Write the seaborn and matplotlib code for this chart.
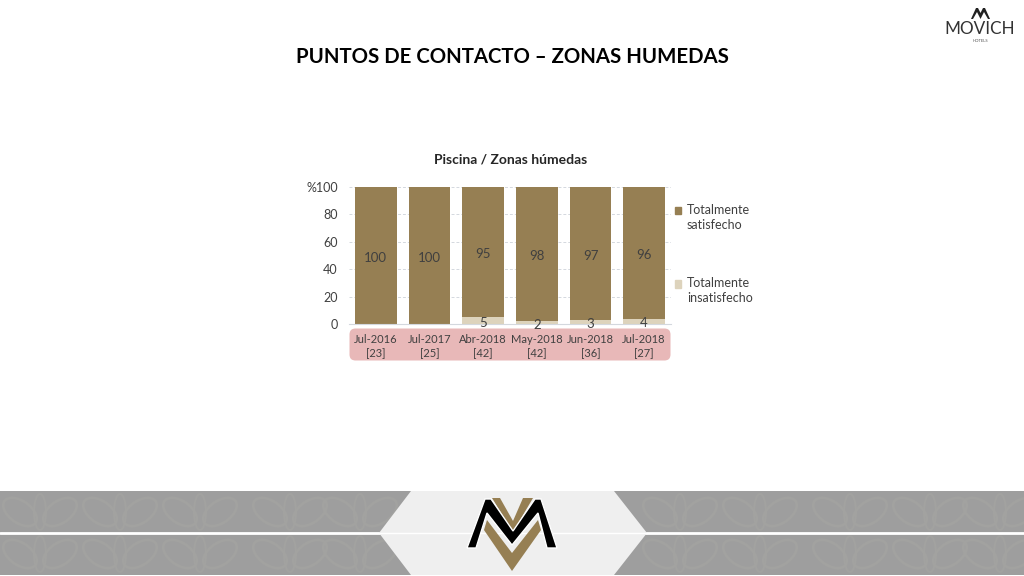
import matplotlib
matplotlib.use("Agg")
import matplotlib.pyplot as plt
import pandas as pd
import seaborn as sns
from matplotlib.patches import Ellipse, FancyBboxPatch, Patch, Polygon

months = ["Jul-2016", "Jul-2017", "Abr-2018", "May-2018", "Jun-2018", "Jul-2018"]
counts = [23, 25, 42, 42, 36, 27]
satisfied = [100, 100, 95, 98, 97, 96]
unsatisfied = [0, 0, 5, 2, 3, 4]
yticks = [0, 20, 40, 60, 80, 100]
ytick_labels = ["0", "20", "40", "60", "80", "%100"]

GOLD = "#967F53"
SAND = "#DDD3BC"
TEXT = "#404040"

sns.set_theme(style="white")
plt.rcParams["font.family"] = ["Lato", "DejaVu Sans"]

W, H = 1024, 576
fig = plt.figure(figsize=(W / 100, H / 100), dpi=100)

# page decoration, in pixels
bg = fig.add_axes([0, 0, 1, 1], zorder=0)
bg.set_xlim(0, W)
bg.set_ylim(H, 0)
bg.axis("off")

bg.fill_between([0, W], 491, 575, color="#9E9E9E", lw=0)
for cx in [40, 120, 200, 290, 360, 680, 760, 850, 930, 1000]:
    for cy in [512, 554]:
        bg.add_patch(Ellipse((cx - 20, cy), 38, 22, angle=35, fill=False, ec="#A2A2A0", lw=2))
        bg.add_patch(Ellipse((cx + 20, cy), 38, 22, angle=-35, fill=False, ec="#A2A2A0", lw=2))
        bg.add_patch(Ellipse((cx, cy), 12, 36, fill=False, ec="#A2A2A0", lw=1.5))
bg.plot([0, W], [533, 533], color="white", lw=2)
bg.add_patch(Polygon([(379, 533), (411, 491), (614, 491), (647, 533), (614, 575), (411, 575)],
                     fc="#EFEFEF", ec="none", zorder=2.5))
bg.plot([379, 647], [533, 533], color="white", lw=1, zorder=2.6)

# footer logo
bg.add_patch(Polygon([(492, 498), (500, 498), (513, 521), (523, 498), (533, 498), (513, 532)],
                     fc=GOLD, lw=0, zorder=3))
bg.add_patch(Polygon([(487, 520), (484, 530), (512, 571), (541, 530), (538, 520), (512, 553)],
                     fc=GOLD, lw=0, zorder=3))
bg.add_patch(Polygon([(467, 548), (485, 499), (491, 499), (513, 531), (535, 499), (541, 499), (557, 548),
                      (547, 548), (538, 513), (512, 545), (487, 513), (476, 548)],
                     fc="black", ec="white", lw=1, zorder=4))

# header logo
bg.add_patch(Polygon([(971, 19), (976, 8), (978, 8), (980.5, 13), (983, 8), (985, 8), (990, 19),
                      (988, 19), (984, 12), (980.5, 19), (977, 12), (973, 19)], fc="#222222", lw=0))
bg.text(980, 29.5, "MOVICH", ha="center", va="center", fontsize=12.3, color="#333333")
bg.text(980, 41.5, "HOTELS", ha="center", va="center", fontsize=3, color="#555555")

bg.text(512.5, 57, "PUNTOS DE CONTACTO – ZONAS HUMEDAS", ha="center", va="center",
        fontsize=14.7, fontweight="bold", color="black")
bg.text(510.5, 159, "Piscina / Zonas húmedas", ha="center", va="center",
        fontsize=10, fontweight="bold", color="#262626")
bg.add_patch(FancyBboxPatch((353, 332), 314, 25, boxstyle="round,pad=3.5,rounding_size=6",
                            fc="#E8B8B8", ec="none"))

# chart
df = pd.DataFrame({"month": months, "satisfied": satisfied, "unsatisfied": unsatisfied})
ax = fig.add_axes([349 / W, 1 - 324 / H, 322 / W, 137 / H], zorder=1)
ax.patch.set_alpha(0)
sns.barplot(data=df, x="month", y="unsatisfied", color=SAND, saturation=1, width=0.78,
            linewidth=0, ax=ax)
sns.barplot(data=df, x="month", y="satisfied", bottom=df["unsatisfied"], color=GOLD,
            saturation=1, width=0.78, linewidth=0, ax=ax)

low_labels = ax.bar_label(ax.containers[0], labels=[str(v) if v else "" for v in unsatisfied],
                          label_type="center", fontsize=9.5, color=TEXT)
high_labels = ax.bar_label(ax.containers[1], labels=[str(v) for v in satisfied],
                           label_type="center", fontsize=9.5, color=TEXT)
for t in list(low_labels) + list(high_labels):
    t.xyann = (0, -1.5)

ax.set_xlim(-0.5, 5.5)
ax.set_ylim(0, 100)
ax.set_yticks(yticks, ytick_labels)
ax.set_xticks(range(len(months)), [f"{m}\n[{c}]" for m, c in zip(months, counts)])
ax.set_xlabel("")
ax.set_ylabel("")
ax.set_axisbelow(True)
ax.grid(axis="y", color="#D4D8DE", lw=0.7, ls=(0, (3, 2)))
ax.tick_params(axis="x", length=0, pad=7, labelsize=8, labelcolor=TEXT)
ax.tick_params(axis="y", length=0, pad=8, labelsize=9, labelcolor=TEXT)
for label in ax.get_xticklabels():
    label.set_linespacing(1.35)
sns.despine(ax=ax, left=True)
ax.spines["bottom"].set_color("#D4D8DE")
ax.spines["bottom"].set_linewidth(0.8)

leg = ax.legend([Patch(color=GOLD), Patch(color=SAND)],
                ["Totalmente\nsatisfecho", "Totalmente\ninsatisfecho"],
                loc="upper left", bbox_to_anchor=(1.011, 0.875), frameon=False, fontsize=9,
                labelcolor=TEXT, handlelength=0.55, handleheight=0.55, handletextpad=0.45,
                labelspacing=3.7, borderpad=0, borderaxespad=0)
for text in leg.get_texts():
    text.set_linespacing(1.3)
# swatches sit beside the first line of each label
for handle in leg.legend_handles:
    handle.set_y(handle.get_y() + 5.5)

fig.savefig("out.png", dpi=100)
